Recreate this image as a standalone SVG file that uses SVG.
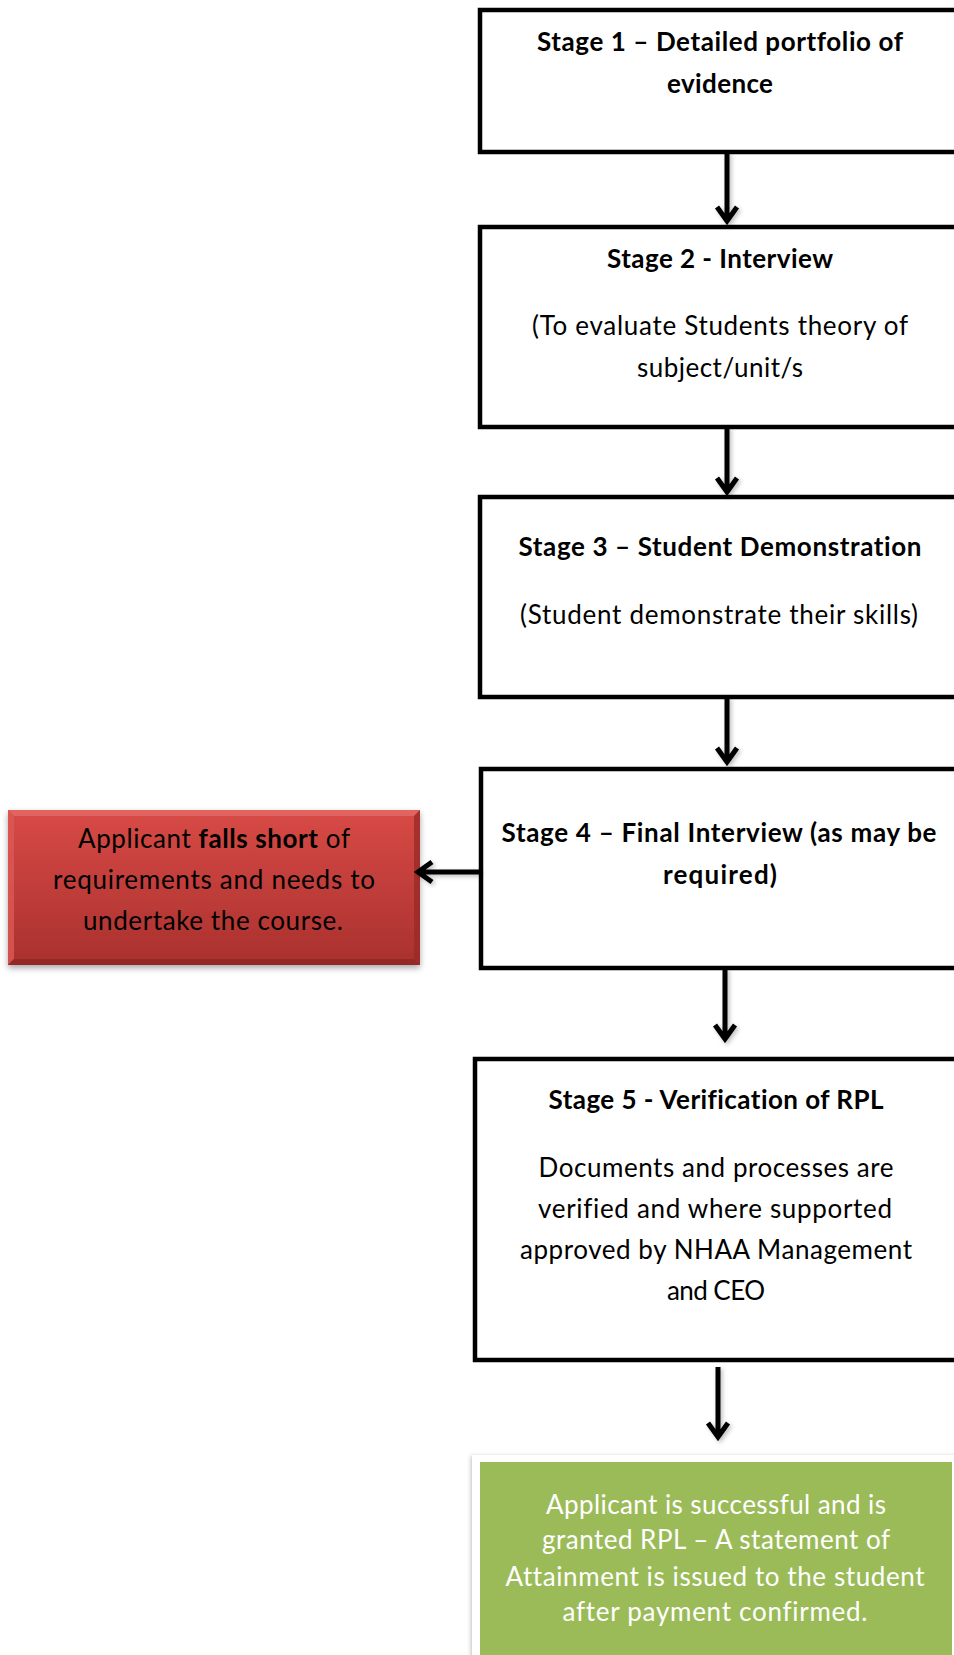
<svg xmlns="http://www.w3.org/2000/svg" width="954" height="1655" viewBox="0 0 954 1655">
<style>
.box{fill:#fff;stroke:#000;stroke-width:4.5}
.t{font-family:Lato,"Open Sans","Liberation Sans",sans-serif;font-size:26px;fill:#000;text-anchor:middle;font-variant-ligatures:none;font-feature-settings:"liga" 0,"clig" 0}
.b{font-weight:bold}
.w{fill:#fff}
.con path{fill:none;stroke:#000;stroke-width:5;stroke-linecap:butt;stroke-linejoin:miter}
</style>
<defs>
<linearGradient id="red" x1="0" y1="0" x2="0" y2="1">
<stop offset="0" stop-color="#d84a46"/>
<stop offset="1" stop-color="#a9312e"/>
</linearGradient>
<filter id="sh" x="-10%" y="-10%" width="120%" height="130%">
<feDropShadow dx="0" dy="3" stdDeviation="3" flood-color="#000" flood-opacity="0.35"/>
</filter>
<filter id="ash" x="-50%" y="-20%" width="200%" height="140%">
<feDropShadow dx="2" dy="2" stdDeviation="2" flood-color="#000" flood-opacity="0.25"/>
</filter>
<filter id="gsh" x="-5%" y="-5%" width="110%" height="110%">
<feDropShadow dx="-1" dy="1" stdDeviation="2" flood-color="#000" flood-opacity="0.25"/>
</filter>
</defs>

<g id="stage1">
<rect class="box" x="480" y="10" width="480" height="142"/>
<text class="t b" x="720" y="51" textLength="366">Stage 1 – Detailed portfolio of</text>
<text class="t b" x="720" y="93" textLength="106">evidence</text>
</g>

<g id="stage2">
<rect class="box" x="480" y="227" width="480" height="200"/>
<text class="t b" x="720" y="268" textLength="226">Stage 2 - Interview</text>
<text class="t" x="720" y="335" textLength="376">(To evaluate Students theory of</text>
<text class="t" x="720" y="377" textLength="166">subject/unit/s</text>
</g>

<g id="stage3">
<rect class="box" x="480" y="497" width="480" height="200"/>
<text class="t b" x="720" y="556" textLength="403">Stage 3 – Student Demonstration</text>
<text class="t" x="719" y="624" textLength="398">(Student demonstrate their skills)</text>
</g>

<g id="stage4">
<rect class="box" x="481" y="769" width="479" height="199"/>
<text class="t b" x="719" y="842" textLength="435">Stage 4 – Final Interview (as may be</text>
<text class="t b" x="720" y="884" textLength="114">required)</text>
</g>

<g id="fail">
<rect x="8" y="810" width="412" height="155" fill="url(#red)" filter="url(#sh)"/>
<polygon points="8,810 420,810 414,816 14,816" fill="#e36b67" opacity="0.8"/>
<polygon points="8,810 14,816 14,959 8,965" fill="#dc5955" opacity="0.8"/>
<polygon points="420,810 420,965 414,959 414,816" fill="#9a2a27" opacity="0.8"/>
<polygon points="8,965 420,965 414,959 14,959" fill="#8e2623" opacity="0.8"/>
<text class="t" x="214" y="848" textLength="272">Applicant <tspan class="b">falls short</tspan> of</text>
<text class="t" x="214" y="889" textLength="322">requirements and needs to</text>
<text class="t" x="213" y="930" textLength="260">undertake the course.</text>
</g>

<g id="stage5">
<rect class="box" x="475" y="1059" width="485" height="301"/>
<text class="t b" x="716" y="1109" textLength="335">Stage 5 - Verification of RPL</text>
<text class="t" x="716" y="1177" textLength="355">Documents and processes are</text>
<text class="t" x="715" y="1218" textLength="354">verified and where supported</text>
<text class="t" x="716" y="1259" textLength="392">approved by NHAA Management</text>
<text class="t" x="716" y="1300" textLength="98">and CEO</text>
</g>

<g id="success">
<rect x="472" y="1455" width="490" height="210" fill="#fff" filter="url(#gsh)"/>
<rect x="480" y="1462" width="472" height="193" fill="#9bbb59"/>
<text class="t w" x="716" y="1514" textLength="340">Applicant is successful and is</text>
<text class="t w" x="716" y="1549" textLength="348">granted RPL – A statement of</text>
<text class="t w" x="715" y="1586" textLength="419">Attainment is issued to the student</text>
<text class="t w" x="715" y="1621" textLength="305">after payment confirmed.</text>
</g>

<g id="connectors" class="con" filter="url(#ash)">
<path d="M727 152 V220 M717 207 L727 221 L737 207"/>
<path d="M727 427 V491 M717 478 L727 492 L737 478"/>
<path d="M727 697 V761 M717 748 L727 762 L737 748"/>
<path d="M725 968 V1038 M715 1025 L725 1039 L735 1025"/>
<path d="M718 1367 V1436 M708 1423 L718 1437 L728 1423"/>
<path d="M480 872 H419 M432 862 L418 872 L432 882"/>
</g>
</svg>
